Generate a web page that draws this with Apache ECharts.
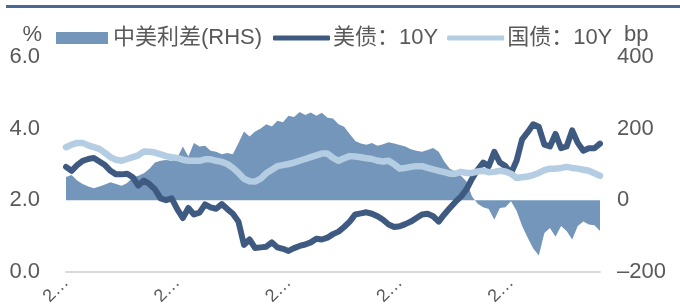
<!DOCTYPE html>
<html>
<head>
<meta charset="utf-8">
<script src="https://cdn.jsdelivr.net/npm/echarts@6/dist/echarts.min.js"></script>
<style>
  html, body { margin: 0; padding: 0; background: #fff; }
  #chart { width: 680px; height: 308px; }
</style>
</head>
<body>
<div id="chart"></div>
<script>
// 日期（约18天一个点）
var dates = [
  "2018-08-01","2018-08-19","2018-09-06","2018-09-24","2018-10-12","2018-10-30","2018-11-17","2018-12-05","2018-12-23",
  "2019-01-10","2019-01-28","2019-02-15","2019-03-05","2019-03-23","2019-04-10","2019-04-28","2019-05-16","2019-06-03",
  "2019-06-21","2019-07-09","2019-07-27","2019-08-14","2019-09-01","2019-09-19","2019-10-07","2019-10-25","2019-11-12",
  "2019-11-30","2019-12-18","2020-01-05","2020-01-23","2020-02-10","2020-02-28","2020-03-17","2020-04-04","2020-04-22",
  "2020-05-10","2020-05-28","2020-06-15","2020-07-03","2020-07-21","2020-08-08","2020-08-26","2020-09-13","2020-10-01",
  "2020-10-19","2020-11-06","2020-11-24","2020-12-12","2020-12-30","2021-01-17","2021-02-04","2021-02-22","2021-03-12",
  "2021-03-30","2021-04-17","2021-05-05","2021-05-23","2021-06-10","2021-06-28","2021-07-16","2021-08-03","2021-08-21",
  "2021-09-08","2021-09-26","2021-10-14","2021-11-01","2021-11-19","2021-12-07","2021-12-25","2022-01-12","2022-01-30",
  "2022-02-17","2022-03-07","2022-03-25","2022-04-12","2022-04-30","2022-05-18","2022-06-05","2022-06-23","2022-07-11",
  "2022-07-29","2022-08-16","2022-09-03","2022-09-21","2022-10-09","2022-10-27","2022-11-14","2022-12-02","2022-12-20",
  "2023-01-07","2023-01-25","2023-02-12","2023-03-02","2023-03-20","2023-04-07","2023-04-25"
];

// 中美利差 (bp, 右轴)
var spread = [
  65, 70, 55, 45, 38, 33, 38, 44, 50, 45,
  40, 48, 64, 68, 75, 88, 105, 110, 112, 110,
  118, 150, 122, 160, 150, 152, 138, 135, 128, 132,
  128, 160, 192, 178, 192, 200, 212, 206, 222, 218,
  236, 232, 246, 238, 245, 236, 244, 230, 228, 212,
  205, 185, 165, 158, 155, 160, 152, 156, 162, 158,
  154, 150, 142, 138, 135, 140, 146, 135, 108, 88,
  80, 68, 52, 10, -10, -20, -25, -55, -22, -20,
  -3, -30, -72, -105, -135, -155, -92, -78, -102, -72,
  -86, -110, -72, -60, -68, -70, -86
];

// 美债 10Y (%)
var us10y = [
  2.93, 2.82, 2.98, 3.10, 3.15, 3.18, 3.08, 2.98, 2.82, 2.72,
  2.72, 2.74, 2.64, 2.41, 2.55, 2.45, 2.30, 2.05, 2.00, 2.05,
  1.75, 1.50, 1.78, 1.60, 1.65, 1.88, 1.80, 1.76, 1.89, 1.75,
  1.62, 1.40, 0.75, 0.90, 0.66, 0.68, 0.70, 0.82, 0.68, 0.64,
  0.58, 0.66, 0.72, 0.76, 0.82, 0.92, 0.90, 0.95, 1.05, 1.12,
  1.25, 1.40, 1.60, 1.63, 1.66, 1.62, 1.55, 1.45, 1.32, 1.25,
  1.27, 1.33, 1.40, 1.50, 1.60, 1.62, 1.55, 1.40, 1.60, 1.78,
  1.95, 2.10, 2.30, 2.60, 2.85, 3.05, 2.95, 3.35, 3.05, 2.95,
  2.75, 3.10, 3.70, 3.90, 4.12, 4.05, 3.55, 3.50, 3.85, 3.45,
  3.50, 3.95, 3.60, 3.38, 3.45, 3.45, 3.58
];

// 国债 10Y (%)
var cn10y = [
  3.48, 3.55, 3.60, 3.60, 3.53, 3.48, 3.43, 3.32, 3.20, 3.13,
  3.10, 3.15, 3.20, 3.25, 3.36, 3.35, 3.33, 3.28, 3.23, 3.20,
  3.18, 3.13, 3.10, 3.10, 3.10, 3.14, 3.14, 3.10, 3.07, 3.01,
  2.90, 2.76, 2.60, 2.53, 2.52, 2.60, 2.75, 2.85, 2.95, 2.98,
  3.01, 3.05, 3.10, 3.15, 3.20, 3.25, 3.30, 3.30, 3.18, 3.10,
  3.17, 3.23, 3.22, 3.20, 3.17, 3.15, 3.10, 3.08, 3.10, 3.00,
  2.88, 2.90, 2.93, 2.95, 2.95, 2.90, 2.86, 2.82, 2.78, 2.74,
  2.74, 2.79, 2.76, 2.76, 2.80, 2.82, 2.78, 2.79, 2.82, 2.80,
  2.74, 2.62, 2.64, 2.66, 2.70, 2.76, 2.84, 2.88, 2.88, 2.90,
  2.93, 2.90, 2.88, 2.85, 2.82, 2.75, 2.68
];

var leftTicks = [0, 2, 4, 6];
var rightTicks = [-200, 0, 200, 400];

var textColor = "#595959";
var fontFamily = "Arial, 'Liberation Sans', 'Noto Sans CJK SC', sans-serif";

var chart = echarts.init(document.getElementById("chart"));

var option = {
  animation: false,
  textStyle: { fontFamily: fontFamily },
  graphic: [{
    type: "rect",
    shape: { x: 6, y: 5, width: 674, height: 3 },
    style: { fill: "#4a6891" }
  }],
  legend: [{
    left: 51,
    top: 22,
    itemWidth: 52,
    itemHeight: 12,
    itemGap: 8,
    textStyle: { color: textColor, fontSize: 22 },
    data: [{ name: "中美利差(RHS)", icon: "rect" }]
  }, {
    left: 268,
    top: 22,
    itemWidth: 57,
    itemHeight: 5,
    itemGap: 9,
    textStyle: { color: textColor, fontSize: 22, padding: [0, 0, 0, -2] },
    data: [
      { name: "美债：10Y", icon: "roundRect" },
      { name: "国债：10Y", icon: "roundRect" }
    ]
  }],
  grid: { left: 66, right: 80, top: 57, bottom: 33 },
  xAxis: {
    type: "category",
    boundaryGap: false,
    data: dates,
    axisLine: { lineStyle: { color: "#d9d9d9", width: 2 } },
    axisTick: { show: false },
    axisLabel: {
      interval: 19,
      rotate: 45,
      color: textColor,
      fontSize: 18,
      width: 30,
      overflow: "truncate",
      ellipsis: "…",
      margin: 8
    }
  },
  yAxis: [{
    type: "value",
    name: "%",
    nameLocation: "end",
    nameGap: 3,
    nameTextStyle: { color: textColor, fontSize: 22, align: "right", padding: [0, 24, 0, 0] },
    min: leftTicks[0],
    max: leftTicks[leftTicks.length - 1],
    interval: 2,
    axisLine: { show: false },
    axisTick: { show: false },
    splitLine: { show: false },
    axisLabel: {
      color: textColor,
      fontSize: 22,
      margin: 26,
      formatter: function (v) { return v.toFixed(1); }
    }
  }, {
    type: "value",
    name: "bp",
    nameLocation: "end",
    nameGap: 3,
    nameTextStyle: { color: textColor, fontSize: 22, align: "left", padding: [0, 0, 0, 24] },
    min: rightTicks[0],
    max: rightTicks[rightTicks.length - 1],
    interval: 200,
    axisLine: { show: false },
    axisTick: { show: false },
    splitLine: { show: false },
    axisLabel: {
      color: textColor,
      fontSize: 22,
      margin: 17,
      formatter: function (v) { return String(v).replace("-", "–"); }
    }
  }],
  series: [{
    name: "中美利差(RHS)",
    type: "line",
    yAxisIndex: 1,
    data: spread,
    symbol: "none",
    lineStyle: { width: 0 },
    itemStyle: { color: "#7396ba" },
    areaStyle: { color: "#7396ba", opacity: 1 }
  }, {
    name: "美债：10Y",
    type: "line",
    yAxisIndex: 0,
    data: us10y,
    symbol: "none",
    itemStyle: { color: "#3f5a80" },
    lineStyle: { color: "#3f5a80", width: 6, cap: "round", join: "round" }
  }, {
    name: "国债：10Y",
    type: "line",
    yAxisIndex: 0,
    data: cn10y,
    symbol: "none",
    itemStyle: { color: "#b4cde2" },
    lineStyle: { color: "#b4cde2", width: 6.5, cap: "round", join: "round" }
  }]
};

chart.setOption(option);
</script>
</body>
</html>
